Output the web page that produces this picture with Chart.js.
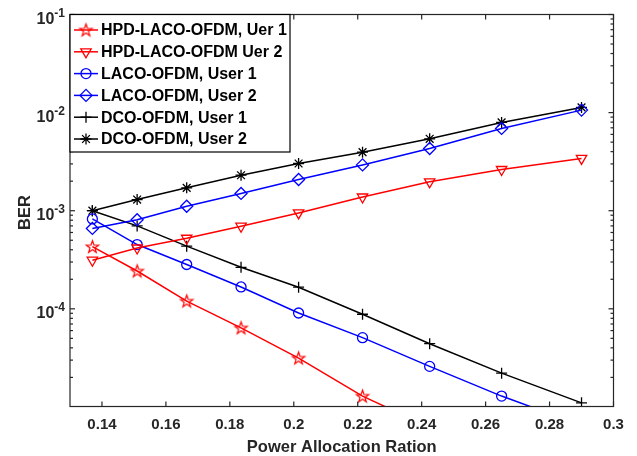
<!DOCTYPE html>
<html>
<head>
<meta charset="utf-8">
<script src="https://cdn.jsdelivr.net/npm/chart.js@4.4.1/dist/chart.umd.min.js"></script>
<style>
  html, body { margin: 0; padding: 0; background: #fff; }
</style>
</head>
<body>
<canvas id="ber" width="637" height="456"></canvas>
<script>
// power allocation ratio (x) and BER per scheme / user
const ratio     = [0.137, 0.151, 0.1665, 0.1835, 0.2015, 0.2215, 0.2425, 0.265, 0.29];
const hpdUser1  = [4.3e-4, 2.43e-4, 1.2e-4, 6.4e-5, 3.15e-5, 1.29e-5, 6.2e-6];
const hpdUser2  = [3.13e-4, 4.17e-4, 5.24e-4, 6.95e-4, 9.5e-4, 1.38e-3, 1.97e-3, 2.63e-3, 3.41e-3];
const lacoUser1 = [8.24e-4, 4.52e-4, 2.83e-4, 1.67e-4, 9.06e-5, 5.08e-5, 2.59e-5, 1.29e-5, 6.5e-6];
const lacoUser2 = [6.6e-4, 8.1e-4, 1.11e-3, 1.5e-3, 2.08e-3, 2.93e-3, 4.31e-3, 6.9e-3, 1.06e-2];
const dcoUser1  = [1.0e-3, 7.0e-4, 4.35e-4, 2.65e-4, 1.66e-4, 8.8e-5, 4.41e-5, 2.21e-5, 1.1e-5];
const dcoUser2  = [1.0e-3, 1.3e-3, 1.71e-3, 2.3e-3, 3.03e-3, 3.95e-3, 5.41e-3, 7.94e-3, 1.13e-2];

const seriesLabels = ['HPD-LACO-OFDM, Uer 1', 'HPD-LACO-OFDM Uer 2', 'LACO-OFDM, User 1',
                      'LACO-OFDM, User 2', 'DCO-OFDM, User 1', 'DCO-OFDM, User 2'];
const xTicks = [0.14, 0.16, 0.18, 0.2, 0.22, 0.24, 0.26, 0.28, 0.3];
const xTickLabels = ['0.14', '0.16', '0.18', '0.2', '0.22', '0.24', '0.26', '0.28', '0.3'];
const yDecades = [-4, -3, -2, -1];

const AXIS = '#262626';
const FONT = '"Liberation Sans", Arial, sans-serif';

// five-pointed star outline, used as a point style
function pentagram(color, r) {
  const size = Math.ceil(r * 2 + 4);
  const c = document.createElement('canvas');
  c.width = c.height = size;
  const g = c.getContext('2d');
  g.translate(size / 2, size / 2 + 0.5);
  g.beginPath();
  for (let i = 0; i < 10; i++) {
    const rr = i % 2 === 0 ? r : r * 0.4;
    const a = -Math.PI / 2 + i * Math.PI / 5;
    const px = rr * Math.cos(a), py = rr * Math.sin(a);
    if (i === 0) g.moveTo(px, py); else g.lineTo(px, py);
  }
  g.closePath();
  g.strokeStyle = color;
  g.lineWidth = 1.2;
  g.stroke();
  return c;
}

const styles = [
  { color: '#ff0000', pointStyle: pentagram('#ff0000', 6.5), radius: 6, rotation: 0 },
  { color: '#ff0000', pointStyle: 'triangle', radius: 6, rotation: 180 },
  { color: '#0000ff', pointStyle: 'circle', radius: 5, rotation: 0 },
  { color: '#0000ff', pointStyle: 'rectRot', radius: 6, rotation: 0 },
  { color: '#000000', pointStyle: 'cross', radius: 5.5, rotation: 0 },
  { color: '#000000', pointStyle: 'star', radius: 5.5, rotation: 0 }
];
const seriesData = [hpdUser1, hpdUser2, lacoUser1, lacoUser2, dcoUser1, dcoUser2];

const datasets = seriesData.map((vals, i) => ({
  label: seriesLabels[i],
  data: vals.map((v, j) => ({ x: ratio[j], y: v })),
  borderColor: styles[i].color,
  backgroundColor: styles[i].color,
  borderWidth: 1.5,
  pointStyle: styles[i].pointStyle,
  pointRadius: styles[i].radius,
  pointRotation: styles[i].rotation,
  pointBorderColor: styles[i].color,
  pointBackgroundColor: 'rgba(0,0,0,0)',
  pointBorderWidth: 1.3,
  tension: 0,
  clip: { left: 8, top: 8, right: 8, bottom: 0 }
}));

function seg(ctx, x1, y1, x2, y2) {
  ctx.beginPath(); ctx.moveTo(x1, y1); ctx.lineTo(x2, y2); ctx.stroke();
}

// box, inward tick marks and tick labels
const axesFrame = {
  id: 'axesFrame',
  afterDatasetsDraw(chart) {
    const { ctx, chartArea: a, scales: { x, y } } = chart;
    ctx.save();
    ctx.strokeStyle = AXIS;
    ctx.lineWidth = 1.2;
    ctx.strokeRect(a.left, a.top, a.right - a.left, a.bottom - a.top);

    xTicks.forEach(v => {
      const px = x.getPixelForValue(v);
      seg(ctx, px, a.bottom, px, a.bottom - 5);
      seg(ctx, px, a.top, px, a.top + 5);
    });
    for (let d = -5; d <= -1; d++) {
      for (let k = 1; k <= 9; k++) {
        const v = k * Math.pow(10, d);
        if (v < y.min * 0.999 || v > y.max * 1.001) continue;
        const py = y.getPixelForValue(v);
        const len = k === 1 ? 5 : 3;
        seg(ctx, a.left, py, a.left + len, py);
        seg(ctx, a.right, py, a.right - len, py);
      }
    }

    ctx.fillStyle = AXIS;
    ctx.font = 'bold 15px ' + FONT;
    ctx.textAlign = 'center';
    ctx.textBaseline = 'alphabetic';
    xTicks.forEach((v, i) => {
      ctx.fillText(xTickLabels[i], x.getPixelForValue(v), a.bottom + 22);
    });

    yDecades.forEach(d => {
      const py = y.getPixelForValue(Math.pow(10, d));
      const sup = '-' + Math.abs(d);
      ctx.font = 'bold 12px ' + FONT;
      const sw = ctx.measureText(sup).width;
      ctx.textAlign = 'right';
      ctx.fillText(sup, a.left - 5, py + 2);
      ctx.font = 'bold 16px ' + FONT;
      ctx.fillText('10', a.left - 5 - sw, py + 9.5);
    });

    ctx.font = 'bold 16.5px ' + FONT;
    ctx.textAlign = 'center';
    ctx.fillText('Power Allocation Ration', (a.left + a.right) / 2, a.bottom + 45);
    ctx.save();
    ctx.translate(30, (a.top + a.bottom) / 2 + 2);
    ctx.rotate(-Math.PI / 2);
    ctx.fillText('BER', 0, 0);
    ctx.restore();
    ctx.restore();
  }
};

// legend box in the upper-left corner: line sample with marker, then label
const lineLegend = {
  id: 'lineLegend',
  afterDraw(chart) {
    const { ctx, chartArea: a } = chart;
    const left = a.left, top = a.top;
    const w = 220, h = 137.5, rowH = 21.8;
    ctx.save();
    ctx.fillStyle = '#fff';
    ctx.fillRect(left, top, w, h);
    ctx.strokeStyle = '#000';
    ctx.lineWidth = 1.2;
    ctx.strokeRect(left, top, w, h);
    ctx.font = 'bold 16px ' + FONT;
    ctx.textAlign = 'left';
    ctx.textBaseline = 'middle';
    chart.data.datasets.forEach((ds, i) => {
      const cy = top + 15.5 + i * rowH;
      ctx.strokeStyle = ds.borderColor;
      ctx.lineWidth = 1.5;
      seg(ctx, left + 4, cy, left + 28, cy);
      ctx.fillStyle = 'rgba(0,0,0,0)';
      ctx.lineWidth = ds.pointBorderWidth;
      Chart.helpers.drawPoint(ctx, {
        pointStyle: ds.pointStyle, rotation: ds.pointRotation,
        radius: ds.pointRadius, borderWidth: ds.pointBorderWidth
      }, left + 16, cy);
      ctx.fillStyle = '#000';
      ctx.fillText(ds.label, left + 31, cy + 1);
    });
    ctx.restore();
  }
};

new Chart(document.getElementById('ber'), {
  type: 'line',
  data: { datasets },
  options: {
    responsive: false,
    devicePixelRatio: 1,
    animation: false,
    layout: { padding: { top: 14.5, right: 23.5, left: 0, bottom: 0 } },
    plugins: { legend: { display: false }, tooltip: { enabled: false } },
    scales: {
      x: {
        type: 'linear', min: 0.13, max: 0.3,
        grid: { display: false }, border: { display: false },
        ticks: { display: false },
        afterFit: s => { s.height = 49.5; }
      },
      y: {
        type: 'logarithmic', min: 1.01e-5, max: 0.1,
        grid: { display: false }, border: { display: false },
        ticks: { display: false },
        afterFit: s => { s.width = 70; }
      }
    }
  },
  plugins: [axesFrame, lineLegend]
});
</script>
</body>
</html>
